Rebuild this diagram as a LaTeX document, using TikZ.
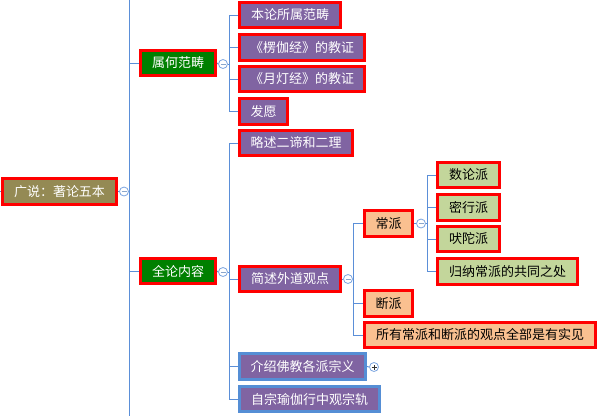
\documentclass[tikz,border=0pt]{standalone}
\usepackage{fontspec}
\newfontfamily\cjk{Noto Sans CJK SC}
\usetikzlibrary{backgrounds}
\definecolor{olive}{HTML}{948A54}
\definecolor{dgreen}{HTML}{008000}
\definecolor{purp}{HTML}{8064A2}
\definecolor{peach}{HTML}{FAC090}
\definecolor{lgreen}{HTML}{C3D69B}
\definecolor{bborder}{HTML}{558ED5}
\definecolor{linec}{HTML}{5B8FD8}
\definecolor{signc}{HTML}{8AA6CC}
\tikzset{
  box/.style={draw=red, line width=3pt, inner sep=0pt, anchor=center,
    font=\cjk\fontsize{13}{13}\selectfont},
  rootbox/.style={box, fill=olive, text=white},
  lvone/.style={box, fill=dgreen, text=white},
  lvtwo/.style={box, fill=purp, text=white},
  lvtwob/.style={lvtwo, draw=bborder},
  lvthree/.style={box, fill=peach, text=black},
  lvfour/.style={box, fill=lgreen, text=black},
  conn/.style={draw=linec, line width=0.9pt},
  tog/.style={circle, draw=linec!80, line width=0.8pt, fill=white, minimum size=9pt, inner sep=0pt},
  minus/.style={tog, path picture={\draw[signc, line width=0.9pt]
     ([xshift=-2.5pt]path picture bounding box.center) -- ([xshift=2.5pt]path picture bounding box.center);}},
  plus/.style={tog, path picture={\draw[black!80, line width=0.9pt]
     ([xshift=-2.5pt]path picture bounding box.center) -- ([xshift=2.5pt]path picture bounding box.center)
     ([yshift=-2.5pt]path picture bounding box.center) -- ([yshift=2.5pt]path picture bounding box.center);}},
}
\begin{document}
\begin{tikzpicture}[x=1pt,y=-1pt]
\useasboundingbox (0,0) rectangle (600,416);
% nodes
\node[rootbox, minimum width=114pt, minimum height=26pt] (root) at (59.5,191.5) {广说：著论五本};
\node[lvone, minimum width=75pt, minimum height=25pt] (A) at (178,63) {属何范畴};
\node[lvone, minimum width=75pt, minimum height=25pt] (B) at (178,271) {全论内容};

\node[lvtwo, minimum width=101pt, minimum height=25pt] (A1) at (290,15) {本论所属范畴};
\node[lvtwo, minimum width=125pt, minimum height=26pt] (A2) at (302,47.5) {《楞伽经》的教证};
\node[lvtwo, minimum width=125pt, minimum height=25pt] (A3) at (302,79) {《月灯经》的教证};
\node[lvtwo, minimum width=48pt, minimum height=26pt] (A4) at (263.5,111.5) {发愿};

\node[lvtwo, minimum width=113pt, minimum height=25pt] (B1) at (296,143) {略述二谛和二理};
\node[lvtwo, minimum width=101pt, minimum height=25pt] (B2) at (290,279) {简述外道观点};
\node[lvtwob, minimum width=126pt, minimum height=26pt] (B3) at (302.5,366.5) {介绍佛教各派宗义};
\node[lvtwob, minimum width=140pt, minimum height=25pt] (B4) at (309.5,399) {自宗瑜伽行中观宗轨};

\node[lvthree, minimum width=48pt, minimum height=26pt] (C1) at (388.5,223.5) {常派};
\node[lvthree, minimum width=48pt, minimum height=26pt] (C2) at (388.5,303.5) {断派};
\node[lvthree, minimum width=231pt, minimum height=25pt] (C3) at (480,335) {所有常派和断派的观点全部是有实见};

\node[lvfour, minimum width=62pt, minimum height=25pt] (D1) at (468.5,175) {数论派};
\node[lvfour, minimum width=62pt, minimum height=26pt] (D2) at (468.5,207.5) {密行派};
\node[lvfour, minimum width=62pt, minimum height=25pt] (D3) at (468.5,239) {吠陀派};
\node[lvfour, minimum width=140pt, minimum height=26pt] (D4) at (507.5,271.5) {归纳常派的共同之处};

% toggles
\node[minus] (t0) at (124,191.5) {};
\node[minus] (tA) at (223,64) {};
\node[minus] (tB) at (223,272) {};
\node[minus] (tB2) at (348,279) {};
\node[minus] (tC1) at (421,223.5) {};
\node[plus] (tB3) at (374,367) {};

% branch coordinates
\coordinate (trtop) at (129,0);
\coordinate (trbot) at (129,416);
\coordinate (tr0) at (129,191.5);
\coordinate (bA) at (229,64);
\coordinate (bB) at (229,272);
\coordinate (bB2) at (353,279);
\coordinate (bC1) at (427,223.5);
\coordinate (lft) at (0,191.5);

\begin{scope}[on background layer]
\draw[conn] (trtop) -- (trbot);
\draw[conn] (lft) -- (root.west);
\draw[conn] (root.east) -- (t0.west);
\draw[conn] (t0.east) -- (tr0);
\draw[conn] (trtop |- A.west) -- (A.west);
\draw[conn] (trtop |- B.west) -- (B.west);

\draw[conn] (A.east) -- (tA.west);
\draw[conn] (tA.east) -- (bA);
\foreach \n in {A1,A2,A3,A4} \draw[conn] (bA) |- (\n.west);

\draw[conn] (B.east) -- (tB.west);
\draw[conn] (tB.east) -- (bB);
\foreach \n in {B1,B2,B3,B4} \draw[conn] (bB) |- (\n.west);

\draw[conn] (B2.east) -- (tB2.west);
\draw[conn] (tB2.east) -- (bB2);
\foreach \n in {C1,C2,C3} \draw[conn] (bB2) |- (\n.west);

\draw[conn] (C1.east) -- (tC1.west);
\draw[conn] (tC1.east) -- (bC1);
\foreach \n in {D1,D2,D3,D4} \draw[conn] (bC1) |- (\n.west);

\draw[conn] (B3.east) -- (tB3.west);
\end{scope}
\end{tikzpicture}
\end{document}
